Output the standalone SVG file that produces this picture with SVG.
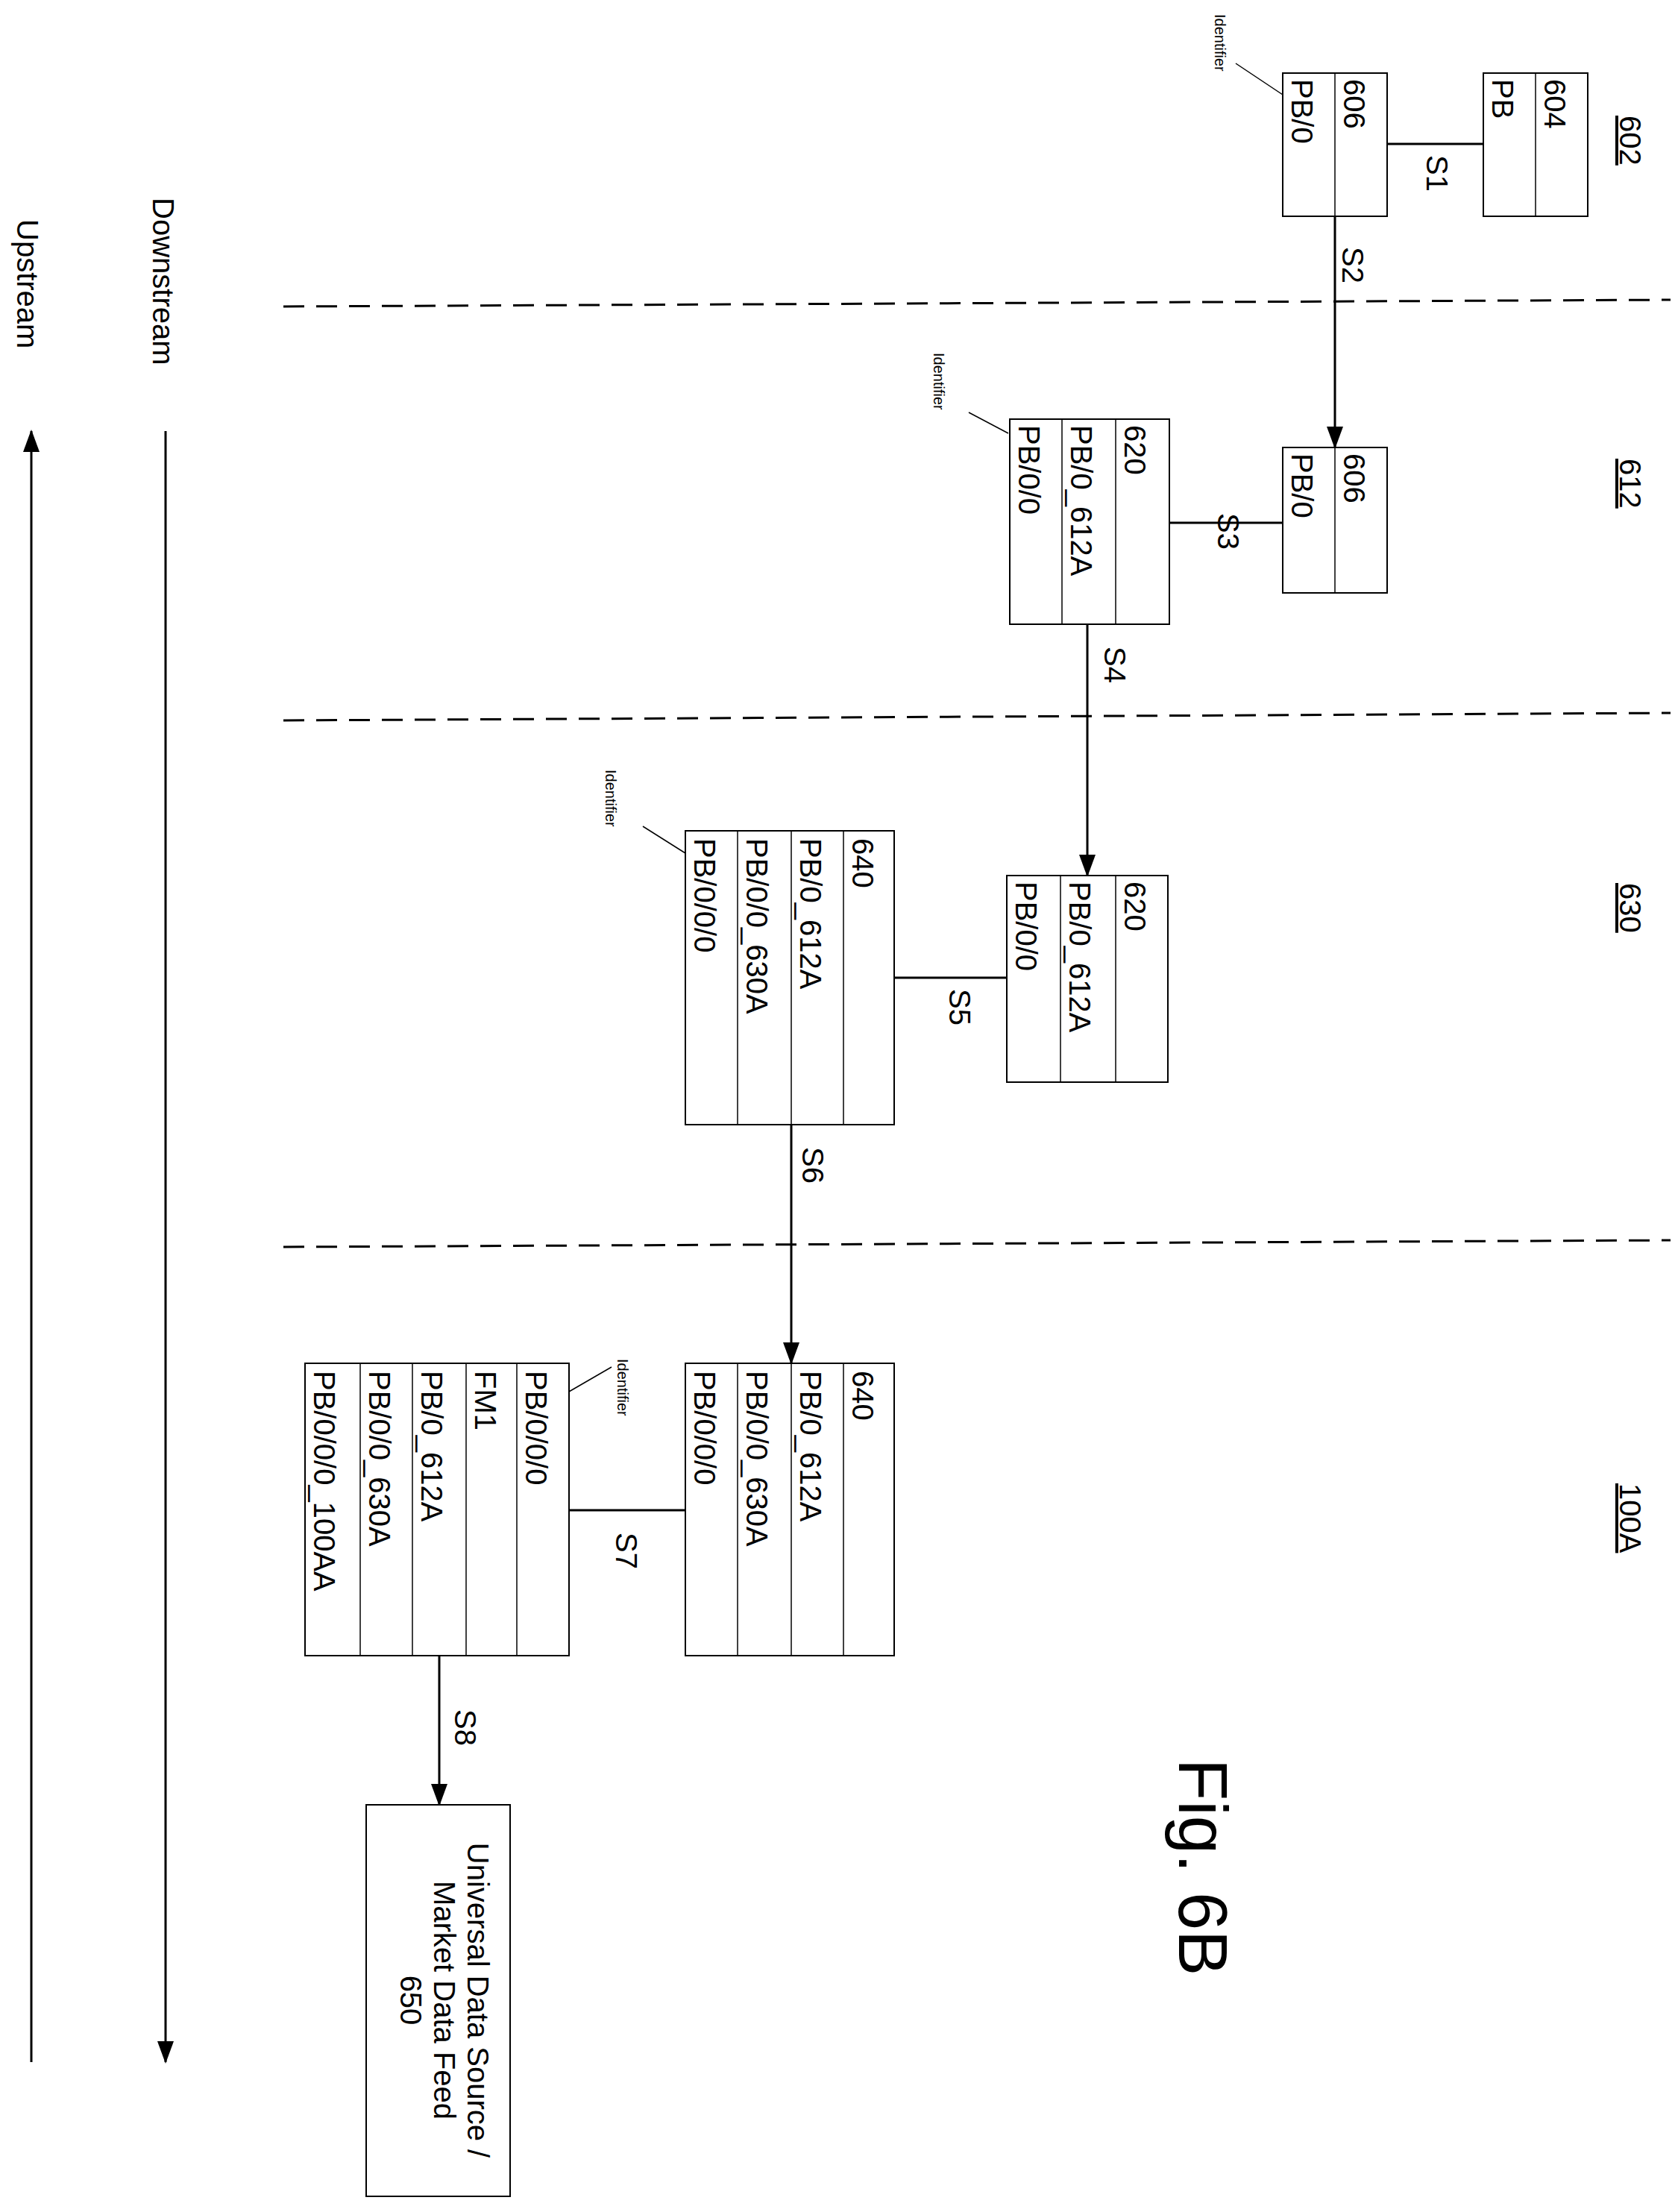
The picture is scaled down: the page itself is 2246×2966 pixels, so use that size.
<svg xmlns="http://www.w3.org/2000/svg" width="2246" height="2966" viewBox="0 0 2246 2966">
<style>
text{font-family:"Liberation Sans",Arial,sans-serif;fill:#000}
.t{font-size:40px}
.s{font-size:20px}
.b{fill:#fff;stroke:#000;stroke-width:2}
.d{stroke:#000;stroke-width:1.5}
.c{stroke:#000;stroke-width:3;fill:none}
.dash{stroke:#000;stroke-width:3;stroke-dasharray:28,16}
</style>
<defs><marker id="ah" markerWidth="10" markerHeight="10" refX="9" refY="5" orient="auto" markerUnits="userSpaceOnUse" viewBox="0 0 10 10"><path d="M0,0L10,5L0,10z" fill="#000"/></marker>
<marker id="ah2" markerWidth="30" markerHeight="30" refX="28" refY="15" orient="auto" markerUnits="userSpaceOnUse"><path d="M0,4L30,15L0,26z" fill="#000"/></marker></defs>
<g id="dividers">
<line class="dash" x1="380" y1="411" x2="2240" y2="402"/>
<line class="dash" x1="380" y1="966" x2="2240" y2="956"/>
<line class="dash" x1="380" y1="1672" x2="2240" y2="1663"/>
</g>
<g id="connectors">
<line class="c" x1="1860" y1="193" x2="1989" y2="193"/>
<line class="c" x1="1790" y1="290" x2="1790" y2="600" marker-end="url(#ah2)"/>
<line class="c" x1="1568" y1="701" x2="1720" y2="701"/>
<line class="c" x1="1458" y1="837" x2="1458" y2="1174" marker-end="url(#ah2)"/>
<line class="c" x1="1199" y1="1311" x2="1350" y2="1311"/>
<line class="c" x1="1061" y1="1508" x2="1061" y2="1828" marker-end="url(#ah2)"/>
<line class="c" x1="763" y1="2025" x2="919" y2="2025"/>
<line class="c" x1="589" y1="2220" x2="589" y2="2420" marker-end="url(#ah2)"/>
<line class="c" x1="222" y1="578" x2="222" y2="2765" marker-end="url(#ah2)"/>
<line class="c" x1="42" y1="2765" x2="42" y2="578" marker-end="url(#ah2)"/>
<line class="d" x1="1657" y1="85" x2="1723" y2="129"/>
<line class="d" x1="1299" y1="553" x2="1352" y2="581"/>
<line class="d" x1="862" y1="1108" x2="919" y2="1144"/>
<line class="d" x1="820" y1="1833" x2="763" y2="1866"/>
<text class="t" transform="translate(1913,208) rotate(90)">S1</text>
<text class="t" transform="translate(1800,331) rotate(90)">S2</text>
<text class="t" transform="translate(1633,688) rotate(90)">S3</text>
<text class="t" transform="translate(1481,867) rotate(90)">S4</text>
<text class="t" transform="translate(1273,1326) rotate(90)">S5</text>
<text class="t" transform="translate(1076,1538) rotate(90)">S6</text>
<text class="t" transform="translate(826,2055) rotate(90)">S7</text>
<text class="t" transform="translate(610,2292) rotate(90)">S8</text>
</g>
<g id="labels">
<text class="t" text-decoration="underline" transform="translate(2172,155) rotate(90)">602</text>
<text class="t" text-decoration="underline" transform="translate(2172,615) rotate(90)">612</text>
<text class="t" text-decoration="underline" transform="translate(2172,1184) rotate(90)">630</text>
<text class="t" text-decoration="underline" transform="translate(2172,1989) rotate(90)">100A</text>
<text class="s" transform="translate(1629,19) rotate(90)">Identifier</text>
<text class="s" transform="translate(1252,473) rotate(90)">Identifier</text>
<text class="s" transform="translate(812,1032) rotate(90)">Identifier</text>
<text class="s" transform="translate(828,1822) rotate(90)">Identifier</text>
<text class="t" transform="translate(205,265) rotate(90)">Downstream</text>
<text class="t" transform="translate(23,294) rotate(90)">Upstream</text>
<text style="font-size:92px" transform="translate(1581,2358) rotate(90)">Fig. 6B</text>
</g>
<g id="n606a"><rect class="b" x="1720" y="98" width="140" height="192"/><line class="d" x1="1790" y1="98" x2="1790" y2="290"/>
<text class="t" transform="translate(1802,106) rotate(90)">606</text><text class="t" transform="translate(1732,106) rotate(90)">PB/0</text></g>
<g id="n604"><rect class="b" x="1989" y="98" width="140" height="192"/><line class="d" x1="2059" y1="98" x2="2059" y2="290"/>
<text class="t" transform="translate(2071,106) rotate(90)">604</text><text class="t" transform="translate(2001,106) rotate(90)">PB</text></g>
<g id="n606b"><rect class="b" x="1720" y="600" width="140" height="195"/><line class="d" x1="1790" y1="600" x2="1790" y2="795"/>
<text class="t" transform="translate(1802,608) rotate(90)">606</text><text class="t" transform="translate(1732,608) rotate(90)">PB/0</text></g>
<g id="n620a"><rect class="b" x="1354" y="562" width="214" height="275"/><line class="d" x1="1424" y1="562" x2="1424" y2="837"/><line class="d" x1="1496" y1="562" x2="1496" y2="837"/>
<text class="t" transform="translate(1508,570) rotate(90)">620</text><text class="t" transform="translate(1436,570) rotate(90)">PB/0_612A</text><text class="t" transform="translate(1366,570) rotate(90)">PB/0/0</text></g>
<g id="n620b"><rect class="b" x="1350" y="1174" width="216" height="277"/><line class="d" x1="1422" y1="1174" x2="1422" y2="1451"/><line class="d" x1="1496" y1="1174" x2="1496" y2="1451"/>
<text class="t" transform="translate(1508,1182) rotate(90)">620</text><text class="t" transform="translate(1434,1182) rotate(90)">PB/0_612A</text><text class="t" transform="translate(1362,1182) rotate(90)">PB/0/0</text></g>
<g id="n640a"><rect class="b" x="919" y="1114" width="280" height="394"/><line class="d" x1="989" y1="1114" x2="989" y2="1508"/><line class="d" x1="1061" y1="1114" x2="1061" y2="1508"/><line class="d" x1="1131" y1="1114" x2="1131" y2="1508"/>
<text class="t" transform="translate(1143,1124) rotate(90)">640</text><text class="t" transform="translate(1073,1124) rotate(90)">PB/0_612A</text><text class="t" transform="translate(1001,1124) rotate(90)">PB/0/0_630A</text><text class="t" transform="translate(931,1124) rotate(90)">PB/0/0/0</text></g>
<g id="n640b"><rect class="b" x="919" y="1828" width="280" height="392"/><line class="d" x1="989" y1="1828" x2="989" y2="2220"/><line class="d" x1="1061" y1="1828" x2="1061" y2="2220"/><line class="d" x1="1131" y1="1828" x2="1131" y2="2220"/>
<text class="t" transform="translate(1143,1838) rotate(90)">640</text><text class="t" transform="translate(1073,1838) rotate(90)">PB/0_612A</text><text class="t" transform="translate(1001,1838) rotate(90)">PB/0/0_630A</text><text class="t" transform="translate(931,1838) rotate(90)">PB/0/0/0</text></g>
<g id="nFM1"><rect class="b" x="409" y="1828" width="354" height="392"/><line class="d" x1="483" y1="1828" x2="483" y2="2220"/><line class="d" x1="553" y1="1828" x2="553" y2="2220"/><line class="d" x1="625" y1="1828" x2="625" y2="2220"/><line class="d" x1="693" y1="1828" x2="693" y2="2220"/>
<text class="t" transform="translate(705,1838) rotate(90)">PB/0/0/0</text><text class="t" transform="translate(637,1838) rotate(90)">FM1</text><text class="t" transform="translate(565,1838) rotate(90)">PB/0_612A</text><text class="t" transform="translate(495,1838) rotate(90)">PB/0/0_630A</text><text class="t" transform="translate(421,1838) rotate(90)">PB/0/0/0_100AA</text></g>
<g id="n650"><rect class="b" x="491" y="2420" width="193" height="525"/>
<text class="t" text-anchor="middle" transform="translate(627,2682) rotate(90)">Universal Data Source /</text><text class="t" text-anchor="middle" transform="translate(582,2682) rotate(90)">Market Data Feed</text><text class="t" text-anchor="middle" transform="translate(537,2682) rotate(90)">650</text></g>
</svg>
